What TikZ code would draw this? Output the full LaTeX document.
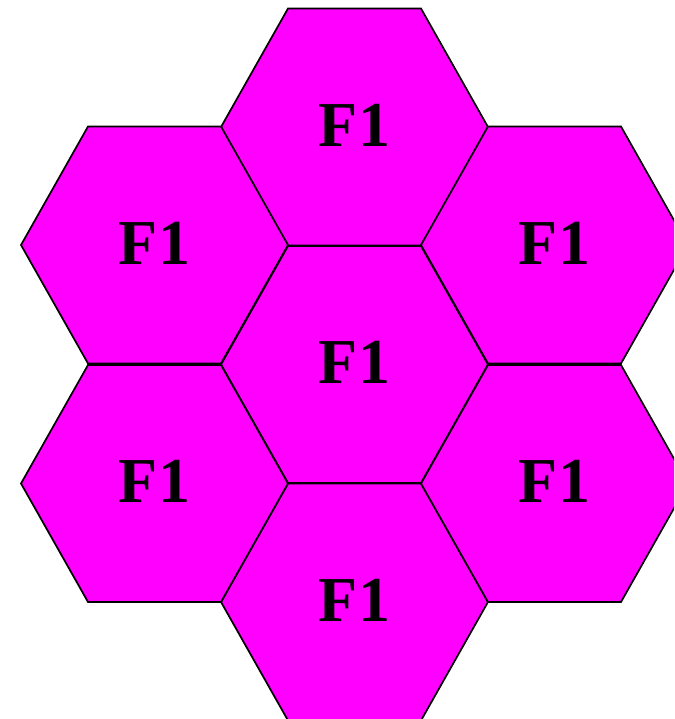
\documentclass[tikz,border=0pt]{standalone}
\usepackage{fontspec}
\setmainfont{Liberation Serif}
\begin{document}
\begin{tikzpicture}[x=1pt,y=-1pt,
  hexcell/.style={fill={rgb,255:red,255;green,0;blue,255},draw=black,line width=1.7pt,line join=miter},
  hexlabel/.style={font=\bfseries\fontsize{64}{64}\selectfont,inner sep=0pt}]
\useasboundingbox (0,0) rectangle (674,719);
\clip (0,0) rectangle (674,719);
\foreach \name/\cx/\cy in {c/354.5/364.5, t/354.5/127, b/354.5/602, ul/154.5/245, ll/154.5/483.5, ur/554.5/245, lr/554.5/483.5}{
  \draw[hexcell] (\cx-133.5,\cy) -- (\cx-66.5,\cy-118.5) -- (\cx+66.5,\cy-118.5) -- (\cx+133.5,\cy) -- (\cx+66.5,\cy+118.5) -- (\cx-66.5,\cy+118.5) -- cycle;
  \node[hexlabel] (\name) at (\cx,\cy-2) {F1};
}
\end{tikzpicture}
\end{document}
